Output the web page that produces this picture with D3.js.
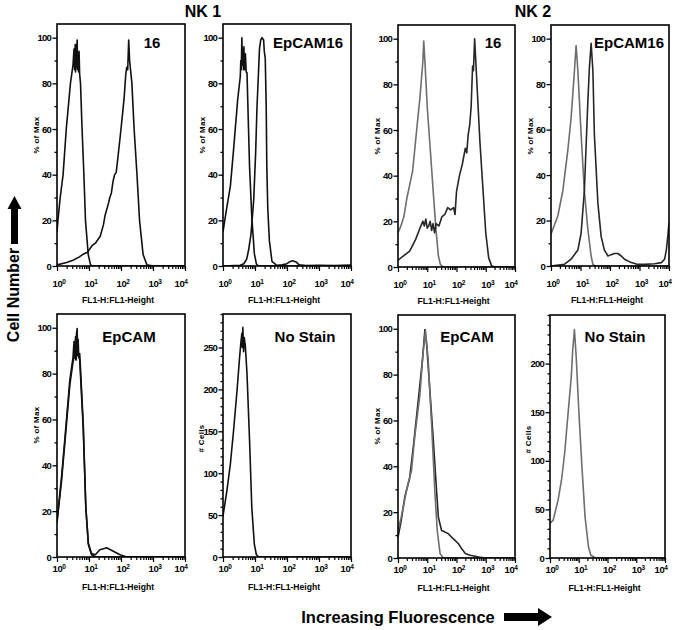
<!DOCTYPE html>
<html><head><meta charset="utf-8">
<script src="https://cdn.jsdelivr.net/npm/d3@7"></script>
<style>body{margin:0;background:#fff}svg{display:block}</style>
</head><body>
<script>
// ---------- data ----------
const columnTitles = ["NK 1", "NK 2"];
const panelLabels = ["16", "EpCAM16", "16", "EpCAM16", "EpCAM", "No Stain", "EpCAM", "No Stain"];
const xMajorTicks = [1, 10, 100, 1000, 10000];
const xTickExponents = ["0", "1", "2", "3", "4"];
const pctTicks = [0, 20, 40, 60, 80, 100];
const nk1CellTicks = [0, 50, 100, 150, 200, 250];
const nk2CellTicks = [0, 50, 100, 150, 200];
const xAxisTitle = "FL1-H:FL1-Height";

// NK1 – "16"
const nk1_16_ctrl = [[1,15],[1.07,20],[1.26,30],[1.55,40],[1.95,60],[2.63,80],[3.16,88],[3.4,95],[3.55,86],[3.7,97],[3.8,85],[3.98,97],[4.1,87],[4.17,96],[4.27,99],[4.4,86],[4.57,93],[4.75,85],[4.9,94],[5.1,84],[5.43,80],[6.0,62],[6.92,40],[7.76,20],[9.46,5],[11.2,0.5],[13,0],[10000,0]];
const nk1_16_stain = [[1,0.5],[2,1.5],[3.16,2.5],[5.01,4],[6.31,5],[8.91,6],[10,7],[12.6,9],[15.8,10],[22.4,13],[28.2,18],[31.6,22],[39.8,27],[44.7,30],[50.1,32],[56.2,37],[63.1,40],[70.8,41],[79.4,47],[100,60],[126,74],[141,84],[151,87],[162,86],[174,99],[186,90],[219,80],[257,60],[316,40],[380,20],[490,5],[646,0.5],[1000,0],[10000,0]];
// NK1 – "EpCAM16"
const nk1_ep16_ctrl = [[1,15],[1.26,24],[1.7,35],[2.14,51],[2.88,73],[3.47,83],[3.6,90],[3.72,86],[3.89,100],[4.07,88],[4.2,95],[4.37,86],[4.5,96],[4.68,86],[5.01,93],[5.3,85],[5.62,84.6],[6.76,43.5],[7.94,21.5],[9.55,5.4],[11,1],[12.6,0],[10000,0]];
const nk1_ep16_stain = [[1,0],[3.47,0.3],[4.47,1],[5.5,3],[6.31,7],[7.5,14],[9.12,29],[10.5,50],[11.5,69],[12.6,82],[13.8,95],[15.1,99],[16.6,100],[18.6,99],[19.5,94],[20.9,91],[22.4,70],[23.4,43.5],[25.1,25],[28.2,11],[33.9,2],[47.9,0.3],[70,0.5],[100,1],[126,2],[151,2.3],[191,1.8],[240,0.5],[400,0.2],[1000,0.3],[3000,0.2],[10000,0.4]];
// NK2 – "16"
const nk2_16_ctrl = [[1,15],[1.26,18],[1.58,22],[2,30],[2.51,36],[3.16,42],[3.98,55],[5.01,68],[5.62,74],[6.31,82],[7.08,90],[7.59,99],[8.32,90],[9.12,80],[10,70],[12.6,52],[15.8,34],[20,16],[24,5],[28.2,1],[35.5,0],[10000,0]];
const nk2_16_stain = [[1,3],[1.58,5],[2.51,7],[3.98,12],[5.62,17],[7.08,20],[7.94,18],[8.91,21],[10,17],[11.2,18],[12.6,20],[14.1,16],[15.8,19],[17.8,15],[20,19],[25.1,18],[31.6,22],[39.8,23],[50.1,26],[63.1,25],[79.4,26],[89.1,23],[100,33],[126,40],[158,45],[200,52],[224,50],[251,58],[282,62],[316,70],[355,88],[380,86],[417,100],[457,90],[501,80],[631,55],[794,35],[1000,15],[1259,4],[1585,0.5],[2000,0],[10000,0]];
// NK2 – "EpCAM16"
const nk2_ep16_ctrl = [[1,14],[1.7,22],[2.51,33],[3.72,51],[4.79,65],[6.17,85],[7.08,97],[8.13,86],[10.5,58],[13.5,33],[17.8,16],[22.9,4.4],[26.3,0.7],[31.6,0],[10000,0]];
const nk2_ep16_stain = [[1,0],[2.82,0.7],[4.79,3],[8.13,7],[10.5,14.5],[13.5,33],[17.8,72.7],[20,87],[22.9,98],[26.3,86],[29.5,58],[38.9,27.6],[50.1,13],[64.6,7],[85.1,4.4],[110,5],[141,5.5],[186,5.5],[240,4.4],[309,3],[525,1.5],[891,0.7],[1479,0.7],[3236,1],[5495,1.5],[7079,3],[8128,7],[9333,14.5],[10000,19]];
// NK1 – "EpCAM"
const nk1_ep_ctrl = [[1,15.6],[1.38,34.6],[1.74,50.7],[2.51,77],[3.16,87],[3.4,94],[3.55,88],[3.8,96],[3.9,86],[4.07,97.5],[4.27,99.7],[4.4,88],[4.57,95],[4.8,87],[5.13,88.7],[6.61,58],[7.94,21.5],[9.55,5.4],[12,1],[15.8,0],[10000,0]];
const nk1_ep_stain = [[1,15],[1.38,33],[1.74,49],[2.51,75],[3.16,85],[3.55,88],[3.98,86],[4.27,95],[4.57,88],[5.13,86],[6.61,56],[7.94,22],[9.55,6],[12,1.5],[15.8,1],[21.9,3.2],[35.5,4],[57.5,2.5],[93.3,1],[151,0],[10000,0]];
// NK1 – "No Stain" (# cells)
const nk1_nostain = [[1,48.8],[1.32,79],[1.7,111],[2.14,151],[2.75,199],[3.31,239],[3.6,255],[3.89,267],[4.0,250],[4.17,274],[4.4,245],[4.6,262],[5.01,251],[5.62,219],[6.76,139],[7.94,59],[9.55,15],[11,3],[12.6,0.5],[15,0],[10000,0]];
// NK2 – "EpCAM"
const nk2_ep_ctrl = [[1,12],[1.29,17.8],[1.95,29.4],[2.88,38],[3.72,52.6],[5.62,71.4],[7.24,90],[8.71,99],[10.7,87],[14.1,58],[18.2,29],[21.9,12],[27.5,1.9],[35.5,0],[10000,0]];
const nk2_ep_stain = [[1,9],[1.29,16.4],[1.7,26.5],[2.51,35],[3.31,48],[4.9,68.5],[6.92,87],[8.32,99.7],[9.55,93],[12.3,73],[16.2,51],[20.9,29],[24,17.8],[30.9,12],[40.7,11.3],[52.5,10.6],[69.2,9],[89.1,7.7],[117,6.2],[151,4],[200,2],[295,1.2],[389,0.9],[575,0.4],[1000,0],[10000,0]];
// NK2 – "No Stain" (# cells)
const nk2_nostain = [[1,35.5],[1.29,39],[1.91,59.5],[2.51,80],[3.24,108],[4.17,146],[5.5,186.6],[6.17,214],[7.08,235],[8.13,207.5],[10,152.5],[12.9,94],[16.6,42],[21.9,11],[26.3,2.8],[33.9,1],[39.8,0],[10000,0]];

// ---------- layout ----------
const W = 675, H = 630;
const BLACK = "#111", GREY = "#6e6e6e", DARK = "#262626";
const panels = [
  {label:panelLabels[0], series:[nk1_16_ctrl, nk1_16_stain], colors:[BLACK,BLACK], x0:57, x1:185, y0:24, y1:266, yMax:106, ticks:pctTicks, minor:10, ytitle:"% of Max", lx:152, la:"middle", row:0},
  {label:panelLabels[1], series:[nk1_ep16_ctrl, nk1_ep16_stain], colors:[BLACK,BLACK], x0:223, x1:351, y0:24, y1:266, yMax:106, ticks:pctTicks, minor:10, ytitle:"% of Max", lx:273, la:"start", row:0},
  {label:panelLabels[2], series:[nk2_16_ctrl, nk2_16_stain], colors:[GREY,DARK], x0:398, x1:515, y0:25, y1:267, yMax:106, ticks:pctTicks, minor:10, ytitle:"% of Max", lx:493, la:"middle", row:0},
  {label:panelLabels[3], series:[nk2_ep16_ctrl, nk2_ep16_stain], colors:[GREY,DARK], x0:551, x1:669, y0:25, y1:266, yMax:106, ticks:pctTicks, minor:10, ytitle:"% of Max", lx:664, la:"end", row:0},
  {label:panelLabels[4], series:[nk1_ep_stain, nk1_ep_ctrl], colors:[BLACK,BLACK], x0:57, x1:185, y0:314, y1:557, yMax:106, ticks:pctTicks, minor:10, ytitle:"% of Max", lx:129, la:"middle", row:1},
  {label:panelLabels[5], series:[nk1_nostain], colors:[BLACK], x0:223, x1:351, y0:314, y1:557, yMax:290, ticks:nk1CellTicks, minor:10, ytitle:"# Cells", lx:305, la:"middle", row:1},
  {label:panelLabels[6], series:[nk2_ep_stain, nk2_ep_ctrl], colors:[DARK,GREY], x0:398, x1:515, y0:315, y1:558, yMax:106, ticks:pctTicks, minor:10, ytitle:"% of Max", lx:467, la:"middle", row:1},
  {label:panelLabels[7], series:[nk2_nostain], colors:[GREY], x0:550, x1:665, y0:315, y1:558, yMax:250, ticks:nk2CellTicks, minor:10, ytitle:"# Cells", lx:615, la:"middle", row:1}
];

const FONT = "'Liberation Sans', Arial, sans-serif";
const svg = d3.select("body").append("svg").attr("width", W).attr("height", H)
  .style("font-family", FONT);
svg.append("rect").attr("width", W).attr("height", H).attr("fill", "#fff");

const minorX = [];
for (let e = 0; e < 4; e++) for (let m = 2; m <= 9; m++) minorX.push(m * Math.pow(10, e));

panels.forEach((p, i) => {
  const x = d3.scaleLog().domain([1, 10000]).range([p.x0, p.x1]);
  const y = d3.scaleLinear().domain([0, p.yMax]).range([p.y1, p.y0]);
  const g = svg.append("g");
  const cid = "clip" + i;
  g.append("clipPath").attr("id", cid).append("rect")
    .attr("x", p.x0).attr("y", p.y0 - 2).attr("width", p.x1 - p.x0).attr("height", p.y1 - p.y0 + 2);

  // curves
  const line = d3.line().x(d => x(d[0])).y(d => y(d[1]));
  p.series.forEach((s, k) => {
    g.append("path").attr("d", line(s)).attr("fill", "none")
      .attr("stroke", p.colors[k]).attr("stroke-width", 1.6)
      .attr("stroke-linejoin", "round").attr("clip-path", `url(#${cid})`);
  });

  // frame
  g.append("rect").attr("x", p.x0).attr("y", p.y0).attr("width", p.x1 - p.x0).attr("height", p.y1 - p.y0)
    .attr("fill", "none").attr("stroke", "#000").attr("stroke-width", 1.6);

  // y axis
  const minorY = d3.range(0, p.yMax + 0.001, p.minor).filter(v => !p.ticks.includes(v));
  const yMinor = g.append("g").attr("transform", `translate(${p.x0},0)`)
    .call(d3.axisLeft(y).tickValues(minorY).tickSize(2.5).tickFormat(""));
  const yMajor = g.append("g").attr("transform", `translate(${p.x0},0)`)
    .call(d3.axisLeft(y).tickValues(p.ticks).tickSize(4.5).tickPadding(1.5));
  [yMinor, yMajor].forEach(a => { a.select(".domain").remove(); a.selectAll("line").attr("stroke", "#000").attr("stroke-width", 1.3); });
  yMajor.selectAll("text").attr("font-family", FONT).attr("font-weight", "bold")
    .attr("font-size", 9.5).attr("letter-spacing", -0.8).attr("fill", "#000");

  // x axis
  const xMinor = g.append("g").attr("transform", `translate(0,${p.y1})`)
    .call(d3.axisBottom(x).tickValues(minorX).tickSize(3).tickFormat(""));
  const xMajor = g.append("g").attr("transform", `translate(0,${p.y1})`)
    .call(d3.axisBottom(x).tickValues(xMajorTicks).tickSize(5).tickFormat(""));
  [xMinor, xMajor].forEach(a => { a.select(".domain").remove(); a.selectAll("line").attr("stroke", "#000").attr("stroke-width", 1.2); });

  const lblY = p.row === 0 ? p.y1 + 21 : p.y1 + 15;
  const ttlY = p.row === 0 ? p.y1 + 37 : p.y1 + 33;
  xMajorTicks.forEach((v, j) => {
    let px = x(v) + 2;
    if (j === xMajorTicks.length - 1) px -= 6;
    const t = g.append("text").attr("x", px).attr("y", lblY).attr("text-anchor", "middle")
      .attr("font-weight", "bold").attr("font-size", 9.5).attr("letter-spacing", -0.4).attr("fill", "#000");
    t.append("tspan").text("10");
    t.append("tspan").attr("dy", -3.5).attr("font-size", 6.5).text(xTickExponents[j]);
  });
  g.append("text").attr("x", (p.x0 + p.x1) / 2 - 3).attr("y", ttlY).attr("text-anchor", "middle")
    .attr("font-weight", "bold").attr("font-size", 8.6).attr("fill", "#000").text(xAxisTitle);

  // y title
  const ytx = p.ytitle === "# Cells" ? p.x0 - 19 : p.x0 - 18;
  const yty = p.ytitle === "# Cells" ? (p.y0 + p.y1) / 2 + 3 : p.y0 + 111;
  g.append("text").attr("transform", `translate(${ytx},${yty}) rotate(-90)`)
    .attr("text-anchor", "middle").attr("font-weight", "bold").attr("font-size", 8)
    .attr("letter-spacing", 0.3).attr("fill", "#000").text(p.ytitle);

  // panel label
  g.append("text").attr("x", p.lx).attr("y", p.row === 0 ? 48 : 342)
    .attr("text-anchor", p.la).attr("font-weight", "bold").attr("font-size", 15)
    .attr("fill", "#000").text(p.label);
});

// column titles
[[203, columnTitles[0]], [533, columnTitles[1]]].forEach(([cx, t]) => {
  svg.append("text").attr("x", cx).attr("y", 17).attr("text-anchor", "middle")
    .attr("font-weight", "bold").attr("font-size", 16).attr("fill", "#000").text(t);
});

// "Cell Number" with up arrow
svg.append("text").attr("transform", "translate(19,295) rotate(-90)")
  .attr("text-anchor", "middle").attr("font-weight", "bold").attr("font-size", 16)
  .attr("fill", "#000").text("Cell Number");
svg.append("path").attr("d", "M14.5,196 L7.5,209 L11,209 L11,244 L18,244 L18,209 L21.5,209 Z").attr("fill", "#000");

// "Increasing Fluorescence" with right arrow
svg.append("text").attr("x", 398).attr("y", 623).attr("text-anchor", "middle")
  .attr("font-weight", "bold").attr("font-size", 16.5).attr("fill", "#000").text("Increasing Fluorescence");
svg.append("path").attr("d", "M504,613 L538,613 L538,608 L552,617 L538,626 L538,621 L504,621 Z").attr("fill", "#000");
</script>
</body></html>
